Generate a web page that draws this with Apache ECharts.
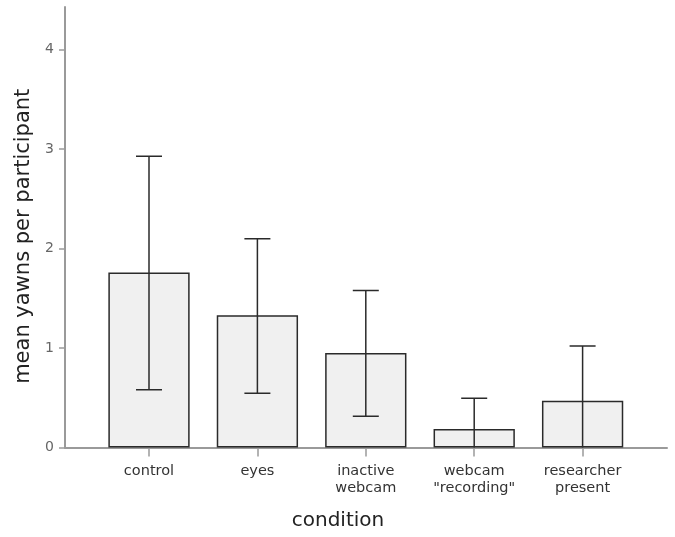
<!DOCTYPE html>
<html>
<head>
<meta charset="utf-8">
<script src="https://cdn.jsdelivr.net/npm/echarts@6/dist/echarts.min.js"></script>
<style>html,body{margin:0;padding:0;background:#fff}#c{width:675px;height:537px}</style>
</head>
<body>
<div id="c"></div>
<script>
const categories = ['control', 'eyes', 'inactive\nwebcam', 'webcam\n"recording"', 'researcher\npresent'];
const means = [1.76, 1.33, 0.95, 0.185, 0.47];
const upper = [2.93, 2.10, 1.58, 0.495, 1.02];
const lower = [0.58, 0.545, 0.315, -0.13, -0.08];
const yTicks = [0, 1, 2, 3, 4];

const FONT = 'DejaVu Sans';
const AXIS_COLOR = '#9a9a9a';
const TOP = 7, BOTTOM = 537 - 447.5;
const YMAX = 4.43;

const chart = echarts.init(document.getElementById('c'), null, {renderer: 'canvas'});
chart.setOption({
  animation: false,
  grid: [
    {left: 94.8, right: 38.2, top: TOP, bottom: BOTTOM},
    {left: 65, right: 8, top: TOP, bottom: BOTTOM}
  ],
  xAxis: [
    {
      type: 'category', gridIndex: 0, data: categories,
      axisLine: {show: false},
      axisTick: {show: true, alignWithLabel: true, length: 9, lineStyle: {color: AXIS_COLOR, width: 1.5}},
      axisLabel: {color: '#333', fontFamily: FONT, fontSize: 14.5, lineHeight: 17, margin: 15, interval: 0}
    },
    {
      type: 'value', gridIndex: 1, min: 0, max: 1,
      axisLine: {show: true, onZero: false, lineStyle: {color: AXIS_COLOR, width: 2}},
      axisTick: {show: false}, axisLabel: {show: false}, splitLine: {show: false},
      name: 'condition', nameLocation: 'middle', nameGap: 63,
      nameTextStyle: {color: '#222', fontFamily: FONT, fontSize: 20, padding: [0, 56, 0, 0]}
    }
  ],
  yAxis: [
    {
      type: 'value', gridIndex: 0, min: 0, max: YMAX, show: false
    },
    {
      type: 'value', gridIndex: 1, min: 0, max: YMAX, interval: 1,
      axisLine: {show: true, lineStyle: {color: AXIS_COLOR, width: 2}},
      axisTick: {show: true, length: 6, customValues: yTicks, lineStyle: {color: AXIS_COLOR, width: 1.5}},
      axisLabel: {color: '#666', fontFamily: FONT, fontSize: 14, margin: 11, customValues: yTicks},
      splitLine: {show: false},
      name: 'mean yawns per participant', nameLocation: 'middle', nameGap: 27, nameRotate: 90,
      nameTextStyle: {color: '#222', fontFamily: FONT, fontSize: 21, padding: [0, 18, 0, 0]}
    }
  ],
  series: [
    {
      type: 'bar', xAxisIndex: 0, yAxisIndex: 0, data: means,
      barWidth: '75%',
      itemStyle: {color: '#f0f0f0', borderColor: '#2a2a2a', borderWidth: 1.5}
    },
    {
      type: 'custom', xAxisIndex: 0, yAxisIndex: 0, clip: true, z: 5,
      data: categories.map((c, i) => [i, lower[i], upper[i]]),
      renderItem: function (params, api) {
        const i = api.value(0);
        const lo = api.coord([i, api.value(1)]);
        const hi = api.coord([i, api.value(2)]);
        const half = 13;
        const style = {stroke: '#2a2a2a', lineWidth: 1.5};
        return {
          type: 'group',
          children: [
            {type: 'line', shape: {x1: hi[0], y1: hi[1], x2: lo[0], y2: lo[1]}, style: style},
            {type: 'line', shape: {x1: hi[0] - half, y1: hi[1], x2: hi[0] + half, y2: hi[1]}, style: style},
            {type: 'line', shape: {x1: lo[0] - half, y1: lo[1], x2: lo[0] + half, y2: lo[1]}, style: style}
          ]
        };
      }
    }
  ]
});
</script>
</body>
</html>
